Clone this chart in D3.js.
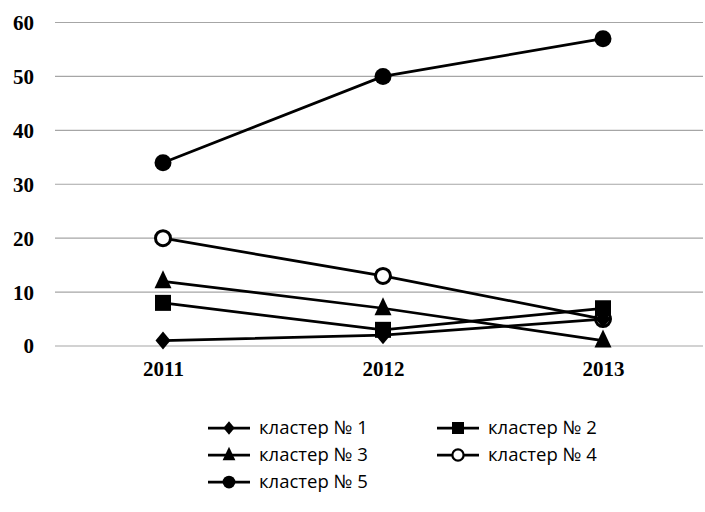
<!DOCTYPE html>
<html><head><meta charset="utf-8">
<script src="https://cdn.jsdelivr.net/npm/d3@7"></script>
<style>body{margin:0;background:#fff}</style>
</head><body>
<svg id="c" width="705" height="512"></svg>
<script>
const categories = ["2011","2012","2013"];
const seriesNames = ["кластер № 1","кластер № 2","кластер № 3","кластер № 4","кластер № 5"];
const cluster1 = [1,2,5];
const cluster2 = [8,3,7];
const cluster3 = [12,7,1];
const cluster4 = [20,13,5];
const cluster5 = [34,50,57];
const yTicks = [0,10,20,30,40,50,60];

const seriesValues = [cluster1,cluster2,cluster3,cluster4,cluster5];
const symbols = ["diamond","square","triangle","ocircle","circle"];

const svg = d3.select("#c");
const x = d3.scalePoint().domain(categories).range([163,603]);
const y = d3.scaleLinear().domain([0,60]).range([346,22.5]);

// gridlines
svg.append("g").selectAll("line").data(yTicks).join("line")
  .attr("x1",55).attr("x2",703)
  .attr("y1",d=>y(d)).attr("y2",d=>y(d))
  .attr("stroke","#a6a6a6").attr("stroke-width",1.2);

// y axis labels
const yAxis = d3.axisLeft(y).tickValues(yTicks).tickSize(0).tickPadding(0);
const ya = svg.append("g").attr("transform","translate(34,0)").call(yAxis);
ya.select(".domain").remove();
ya.selectAll("text").attr("font-family","Liberation Serif").attr("font-weight","bold")
  .attr("font-size",21).attr("fill","#000").attr("dy","0.33em");

// x axis labels
const xAxis = d3.axisBottom(x).tickSize(0).tickPadding(0);
const xa = svg.append("g").attr("transform","translate(0,362)").call(xAxis);
xa.select(".domain").remove();
xa.selectAll("text").attr("font-family","Liberation Serif").attr("font-weight","bold")
  .attr("font-size",21).attr("fill","#000").attr("dy","0.68em");

function drawMarker(g, type, cx, cy, scale){
  const s = scale||1;
  if(type==="diamond"){
    g.append("path").attr("d",`M${cx},${cy-9*s}L${cx+7.5*s},${cy}L${cx},${cy+9*s}L${cx-7.5*s},${cy}Z`).attr("fill","#000");
  } else if(type==="square"){
    g.append("rect").attr("x",cx-8*s).attr("y",cy-8*s).attr("width",16*s).attr("height",16*s).attr("fill","#000");
  } else if(type==="triangle"){
    g.append("path").attr("d",`M${cx},${cy-11*s}L${cx+8.5*s},${cy+7*s}L${cx-8.5*s},${cy+7*s}Z`).attr("fill","#000");
  } else if(type==="ocircle"){
    g.append("circle").attr("cx",cx).attr("cy",cy).attr("r",7.5*s).attr("fill","#fff").attr("stroke","#000").attr("stroke-width",3*s);
  } else {
    g.append("circle").attr("cx",cx).attr("cy",cy).attr("r",8.5*s).attr("fill","#000");
  }
}

const line = d3.line().x((d,i)=>x(categories[i])).y(d=>y(d));
const plot = svg.append("g");
seriesValues.forEach((vals,si)=>{
  plot.append("path").datum(vals).attr("d",line).attr("fill","none")
    .attr("stroke","#000").attr("stroke-width",2.75);
});
// markers drawn last series first
for(let si=seriesValues.length-1; si>=0; si--){
  seriesValues[si].forEach((v,i)=>drawMarker(plot, symbols[si], x(categories[i]), y(v)));
}

// legend
const legPos = [[208,428],[437,428],[208,455],[437,455],[208,482]];
const leg = svg.append("g");
seriesNames.forEach((name,i)=>{
  const [lx,ly] = legPos[i];
  leg.append("line").attr("x1",lx).attr("x2",lx+42).attr("y1",ly).attr("y2",ly)
    .attr("stroke","#000").attr("stroke-width",2.75);
  drawMarker(leg, symbols[i], lx+21, ly, 0.75);
  leg.append("text").attr("x",lx+51).attr("y",ly).attr("dy","0.35em")
    .attr("font-family","Open Sans").attr("font-size",18.5).attr("fill","#000").text(name);
});
</script>
</body></html>
